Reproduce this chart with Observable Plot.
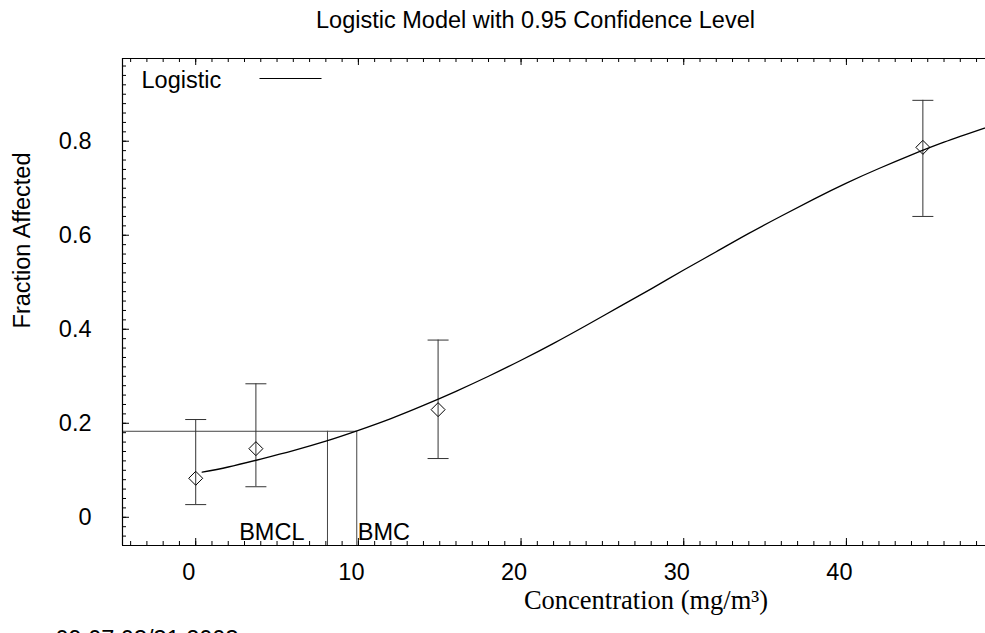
<!DOCTYPE html>
<html><head><meta charset="utf-8">
<script src="https://cdn.jsdelivr.net/npm/d3@7"></script>
<script src="https://cdn.jsdelivr.net/npm/@observablehq/plot@0.6"></script>
<style>body{margin:0;background:#fff} svg{display:block}</style>
</head><body><div id="chart"></div>
<script>
// Observed data (dose groups) with 95% confidence limits
const doses = [0, 3.7, 14.9, 44.7];
const fractions = [0.083, 0.146, 0.229, 0.787];
const lower = [0.027, 0.065, 0.125, 0.64];
const upper = [0.208, 0.284, 0.377, 0.887];
// Fitted logistic curve
const curveX = [0.4, 2, 4, 6, 8, 10, 12, 14, 16, 18, 20, 22, 24, 26, 28, 30, 32, 34, 36, 38, 40, 42, 44, 46, 48.5];
const curveY = [0.096, 0.107, 0.124, 0.142, 0.162, 0.185, 0.210, 0.238, 0.268, 0.300, 0.334, 0.370, 0.408, 0.447, 0.486, 0.526, 0.565, 0.604, 0.641, 0.677, 0.711, 0.742, 0.771, 0.798, 0.828];
// Benchmark values
const bmrLevel = 0.183;
const bmclValue = 8.1;
const bmcValue = 9.9;
const bmLabels = ["BMCL", "BMC"];
// Ticks
const xMajor = [0, 10, 20, 30, 40];
const xMajorLabels = ["0", "10", "20", "30", "40"];
const yMajor = [0, 0.2, 0.4, 0.6, 0.8];
const yMajorLabels = ["0", "0.2", "0.4", "0.6", "0.8"];
const xMinor = d3.range(-4, 49, 1);
const yMinor = d3.range(-3, 49).map(i => i / 50);
const titleText = "Logistic Model with 0.95 Confidence Level";
const yTitle = "Fraction Affected";
const xTitle = "Concentration (mg/m\u00B3)";
const dateText = "09:07 03/31 2003";
const legendLabel = "Logistic";

const xDomain = [-4.5, 48.55];
const yDomain = [-0.06, 0.976];

const W = 985, H = 633, mL = 122, mR = 0, mT = 58, mB = 88;
const fw = W - mL - mR, fh = H - mT - mB;
const sans = "'Liberation Sans', Arial, Helvetica, sans-serif";
const serif = "'Liberation Serif', 'Times New Roman', serif";

const points = doses.map((d, i) => ({dose: d, frac: fractions[i], lo: lower[i], hi: upper[i]}));
const curve = curveX.map((x, i) => ({x, y: curveY[i]}));
const bm = [{x: bmclValue, label: bmLabels[0]}, {x: bmcValue, label: bmLabels[1]}];

const hline = w => ({draw(ctx) { ctx.moveTo(-w / 2, 0); ctx.lineTo(w / 2, 0); }});
const ink = "#000";
const gray = "#444";

const chart = Plot.plot({
  width: W, height: H,
  marginLeft: mL, marginRight: mR, marginTop: mT, marginBottom: mB,
  style: {fontFamily: sans, fontSize: "23.5px", background: "#fff", color: "#000", overflow: "hidden"},
  x: {domain: xDomain, axis: null},
  y: {domain: yDomain, axis: null},
  marks: [
    // benchmark reference lines
    Plot.ruleY([bmrLevel], {x1: xDomain[0], x2: bmcValue, stroke: gray, strokeWidth: 1}),
    Plot.ruleX(bm, {x: "x", y1: yDomain[0], y2: bmrLevel, stroke: gray, strokeWidth: 1}),
    // error bars
    Plot.ruleX(points, {x: "dose", y1: "lo", y2: "hi", stroke: "#333", strokeWidth: 1}),
    Plot.dot(points, {x: "dose", y: "hi", symbol: hline(21), stroke: "#333", fill: "none", strokeWidth: 1}),
    Plot.dot(points, {x: "dose", y: "lo", symbol: hline(21), stroke: "#333", fill: "none", strokeWidth: 1}),
    // fitted curve
    Plot.line(curve, {x: "x", y: "y", curve: "natural", stroke: ink, strokeWidth: 1.3}),
    // observed means
    Plot.dot(points, {x: "dose", y: "frac", symbol: "diamond2", r: 6.3, stroke: ink, fill: "none", strokeWidth: 1}),
    // axis lines
    Plot.ruleX([xDomain[0]], {stroke: ink, strokeWidth: 1.2}),
    Plot.ruleY([yDomain[0], yDomain[1]], {stroke: ink, strokeWidth: 1.2}),
    // ticks bottom / top
    Plot.tickX(xMinor, {x: d => d, insetTop: fh - 4, stroke: ink}),
    Plot.tickX(xMajor, {x: d => d, insetTop: fh - 7, stroke: ink}),
    Plot.tickX(xMinor, {x: d => d, insetBottom: fh - 4, stroke: ink}),
    Plot.tickX(xMajor, {x: d => d, insetBottom: fh - 7, stroke: ink}),
    // ticks left
    Plot.tickY(yMinor, {y: d => d, insetRight: fw - 4, stroke: ink}),
    Plot.tickY(yMajor, {y: d => d, insetRight: fw - 7, stroke: ink}),
    // tick labels
    Plot.text(xMajor, {x: d => d, text: (d, i) => xMajorLabels[i], frameAnchor: "bottom", lineAnchor: "middle", textAnchor: "middle", dy: 27, dx: -7, fill: ink}),
    Plot.text(yMajor, {y: d => d, text: (d, i) => yMajorLabels[i], frameAnchor: "left", lineAnchor: "middle", textAnchor: "end", dx: -31, fill: ink}),
    // benchmark labels
    Plot.text(bm.slice(0, 1), {x: "x", text: "label", frameAnchor: "bottom", lineAnchor: "middle", textAnchor: "end", dx: -23, dy: -13, fill: ink}),
    Plot.text(bm.slice(1), {x: "x", text: "label", frameAnchor: "bottom", lineAnchor: "middle", textAnchor: "start", dx: 1, dy: -13, fill: ink}),
    // titles
    Plot.text([titleText], {text: d => d, frameAnchor: "top", lineAnchor: "middle", textAnchor: "middle", dx: -18.5, dy: -38, fill: ink}),
    Plot.text([yTitle], {text: d => d, frameAnchor: "left", lineAnchor: "middle", textAnchor: "middle", rotate: -90, dx: -100, dy: -61.5, fill: ink}),
    Plot.text([xTitle], {text: d => d, frameAnchor: "bottom", lineAnchor: "middle", textAnchor: "middle", dx: 92, dy: 55.5, fontFamily: serif, fontSize: 26.5, fill: ink}),
    Plot.text([dateText], {text: d => d, frameAnchor: "bottom-left", textAnchor: "start", lineAnchor: "top", dx: -67, dy: 85, fill: ink}),
    // legend
    Plot.text([legendLabel], {text: d => d, frameAnchor: "top-left", textAnchor: "start", lineAnchor: "middle", dx: 19, dy: 22, fill: ink}),
    Plot.dot([legendLabel], {frameAnchor: "top-left", dx: 290 - mL, dy: 20, symbol: hline(62), stroke: ink, fill: "none", strokeWidth: 1.2})
  ]
});
document.getElementById("chart").appendChild(chart);
</script>
</body></html>
